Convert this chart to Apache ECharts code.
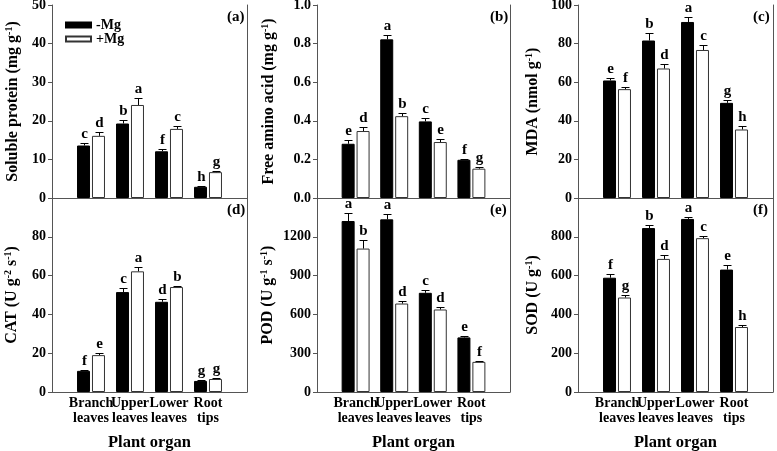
<!DOCTYPE html>
<html>
<head>
<meta charset="utf-8">
<script src="https://cdn.jsdelivr.net/npm/echarts@6/dist/echarts.min.js"></script>
<style>html,body{margin:0;padding:0;background:#fff}#c{width:777px;height:451px}</style>
</head>
<body>
<div id="c"></div>
<script>
// ---- data ----
const categories = ['Branch\nleaves', 'Upper\nleaves', 'Lower\nleaves', 'Root\ntips'];
const seriesNames = ['-Mg', '+Mg'];

// (a) Soluble protein
const proteinMinus = [13.6, 19.3, 12.1, 2.9];
const proteinMinusErr = [0.6, 0.9, 0.6, 0.2];
const proteinMinusLetters = ['c', 'b', 'f', 'h'];
const proteinPlus = [16.1, 24.1, 17.9, 6.7];
const proteinPlusErr = [0.9, 1.8, 0.8, 0.4];
const proteinPlusLetters = ['d', 'a', 'c', 'g'];

// (b) Free amino acid
const aminoMinus = [0.281, 0.822, 0.397, 0.198];
const aminoMinusErr = [0.019, 0.022, 0.017, 0.003];
const aminoMinusLetters = ['e', 'a', 'c', 'f'];
const aminoPlus = [0.347, 0.424, 0.290, 0.152];
const aminoPlusErr = [0.019, 0.016, 0.017, 0.008];
const aminoPlusLetters = ['d', 'b', 'e', 'g'];

// (c) MDA
const mdaMinus = [60.9, 81.6, 91.2, 49.3];
const mdaMinusErr = [1.2, 3.7, 2.4, 1.4];
const mdaMinusLetters = ['e', 'b', 'a', 'g'];
const mdaPlus = [56.4, 67.1, 76.7, 35.5];
const mdaPlusErr = [1.2, 2.2, 2.4, 1.7];
const mdaPlusLetters = ['f', 'd', 'c', 'h'];

// (d) CAT
const catMinus = [10.9, 51.5, 46.5, 5.7];
const catMinusErr = [0.5, 2.0, 1.3, 0.3];
const catMinusLetters = ['f', 'c', 'd', 'g'];
const catPlus = [19.0, 62.2, 54.1, 6.7];
const catPlusErr = [1.0, 2.4, 0.6, 0.3];
const catPlusLetters = ['e', 'a', 'b', 'g'];

// (e) POD
const podMinus = [1322, 1335, 767, 422];
const podMinusErr = [65, 39, 18, 10];
const podMinusLetters = ['a', 'a', 'c', 'e'];
const podPlus = [1109, 684, 638, 233];
const podPlusErr = [63, 16, 18, 10];
const podPlusLetters = ['b', 'd', 'd', 'f'];

// (f) SOD
const sodMinus = [589, 845, 892, 631];
const sodMinusErr = [19, 15, 12, 24];
const sodMinusLetters = ['f', 'b', 'a', 'e'];
const sodPlus = [487, 686, 793, 335];
const sodPlusErr = [14, 22, 12, 12];
const sodPlusLetters = ['g', 'd', 'c', 'h'];

// axis ranges / titles
const yRanges = [[0, 50, 10], [0, 1, 0.2], [0, 100, 20], [0, 100, 20], [0, 1500, 300], [0, 1000, 200]];
const yTitles = [
  '{t|Soluble protein (mg g}{s|-1}{t|)}',
  '{t|Free amino acid (mg g}{s|-1}{t|)}',
  '{t|MDA (nmol g}{s|-1}{t|)}',
  '{t|CAT (U g}{s|-2}{t| s}{s|-1}{t|)}',
  '{t|POD (U g}{s|-1}{t| s}{s|-1}{t|)}',
  '{t|SOD (U g}{s|-1}{t|)}'
];
const panelLabels = ['(a)', '(b)', '(c)', '(d)', '(e)', '(f)'];
const xTitle = 'Plant organ';

// ---- layout ----
const FONT = '"Liberation Serif", "Times New Roman", serif';
const AXIS = '#555';
const grids = [
  {left: 52, top: 5, width: 195, height: 193},
  {left: 317, top: 5, width: 193, height: 193},
  {left: 578, top: 5, width: 195, height: 193},
  {left: 52, top: 198, width: 195, height: 194},
  {left: 317, top: 198, width: 193, height: 194},
  {left: 578, top: 198, width: 195, height: 194}
].map(g => Object.assign({outerBoundsMode: 'none', containLabel: false}, g));
const nameGaps = [30, 39, 36, 31, 40, 36];

const panels = [
  [proteinMinus, proteinMinusErr, proteinMinusLetters, proteinPlus, proteinPlusErr, proteinPlusLetters],
  [aminoMinus, aminoMinusErr, aminoMinusLetters, aminoPlus, aminoPlusErr, aminoPlusLetters],
  [mdaMinus, mdaMinusErr, mdaMinusLetters, mdaPlus, mdaPlusErr, mdaPlusLetters],
  [catMinus, catMinusErr, catMinusLetters, catPlus, catPlusErr, catPlusLetters],
  [podMinus, podMinusErr, podMinusLetters, podPlus, podPlusErr, podPlusLetters],
  [sodMinus, sodMinusErr, sodMinusLetters, sodPlus, sodPlusErr, sodPlusLetters]
];

const axisCats = [''].concat(categories, ['']);

const xAxes = [], yAxes = [], series = [], graphics = [];
const BW = 13, OFF = 7.5;

function errSeries(gi, vals, errs, letters, side) {
  return {
    type: 'custom', xAxisIndex: gi, yAxisIndex: gi * 2, silent: true, z: 5,
    data: vals.map((v, i) => [i + 1, v, errs[i]]),
    encode: {x: 0, y: 1},
    renderItem(params, api) {
      const x = api.value(0), v = api.value(1), e = api.value(2);
      const p0 = api.coord([x, v]);
      const p1 = api.coord([x, v + e]);
      const cx = Math.round(p0[0] + side * OFF) + 0.5;
      const yt = Math.round(p1[1]) + 0.5;
      return {type: 'group', children: [
        {type: 'line', shape: {x1: cx, y1: p0[1], x2: cx, y2: yt}, style: {stroke: '#000', lineWidth: 1}},
        {type: 'line', shape: {x1: cx - 4, y1: yt, x2: cx + 4, y2: yt}, style: {stroke: '#000', lineWidth: 1}},
        {type: 'text', x: cx, y: yt - 2, style: {text: letters[params.dataIndex], fontFamily: FONT, fontWeight: 'bold', fontSize: 15, fill: '#000', align: 'center', verticalAlign: 'bottom'}}
      ]};
    }
  };
}

grids.forEach((g, gi) => {
  const bottom = gi >= 3;
  const [mn, mx, iv] = yRanges[gi];
  xAxes.push({
    type: 'category', gridIndex: gi, data: axisCats, boundaryGap: false,
    axisLine: {show: true, lineStyle: {color: AXIS, width: 1}},
    axisTick: {show: false}, splitLine: {show: false},
    axisLabel: bottom ? {show: true, interval: 0, margin: 4, overflow: 'none', hideOverlap: false,
      fontFamily: FONT, fontWeight: 'bold', fontSize: 14, lineHeight: 15, color: '#000'} : {show: false},
    name: bottom ? xTitle : '', nameLocation: 'middle', nameGap: 42,
    nameTextStyle: {fontFamily: FONT, fontWeight: 'bold', fontSize: 16.5, color: '#000'}
  });
  yAxes.push({
    type: 'value', gridIndex: gi, min: mn, max: mx, interval: iv, position: 'left',
    axisLine: {show: true, lineStyle: {color: AXIS, width: 1}},
    axisTick: {show: true, length: 4, lineStyle: {color: AXIS}},
    splitLine: {show: false},
    axisLabel: {showMaxLabel: !bottom, margin: 6, fontFamily: FONT, fontWeight: 'bold', fontSize: 14, color: '#000',
      formatter: gi === 1 ? (v) => v.toFixed(1) : (v) => String(v)},
    name: yTitles[gi], nameLocation: 'middle', nameGap: nameGaps[gi], nameRotate: 90,
    nameTextStyle: {
      rich: {
        t: {fontFamily: FONT, fontWeight: 'bold', fontSize: 16, lineHeight: 18, color: '#000'},
        s: {fontFamily: FONT, fontWeight: 'bold', fontSize: 10, verticalAlign: 'top', color: '#000'}
      }
    }
  });
  yAxes.push({
    type: 'value', gridIndex: gi, min: mn, max: mx, interval: iv, position: 'right',
    axisLine: {show: true, lineStyle: {color: AXIS, width: 1}},
    axisTick: {show: false}, axisLabel: {show: false}, splitLine: {show: false}
  });
  const [vm, em, lm, vp, ep, lp] = panels[gi];
  series.push({
    type: 'bar', name: seriesNames[0], xAxisIndex: gi, yAxisIndex: gi * 2,
    data: vm.map((v, i) => [i + 1, v]), barWidth: BW, barGap: '15%',
    itemStyle: {color: '#000', borderColor: '#000', borderWidth: 1}, silent: true
  });
  series.push({
    type: 'bar', name: seriesNames[1], xAxisIndex: gi, yAxisIndex: gi * 2,
    data: vp.map((v, i) => [i + 1, v]), barWidth: BW, barGap: '15%',
    itemStyle: {color: '#fff', borderColor: '#333', borderWidth: 1}, silent: true
  });
  series.push(errSeries(gi, vm, em, lm, -1));
  series.push(errSeries(gi, vp, ep, lp, 1));
  graphics.push({
    type: 'text', left: g.left + g.width - 4 - 16, top: g.top + 5,
    style: {text: panelLabels[gi], fontFamily: FONT, fontWeight: 'bold', fontSize: 15, fill: '#000'}
  });
});

const legendBase = {
  orient: 'vertical', left: 65, padding: 0, itemWidth: 25, itemHeight: 5, itemGap: 0,
  icon: 'rect', selectedMode: false,
  textStyle: {fontFamily: FONT, fontWeight: 'bold', fontSize: 14, lineHeight: 14, color: '#000'}
};

const chart = echarts.init(document.getElementById('c'), null, {renderer: 'canvas'});
chart.setOption({
  animation: false,
  backgroundColor: '#fff',
  grid: grids,
  xAxis: xAxes,
  yAxis: yAxes,
  series: series,
  graphic: graphics,
  legend: [
    Object.assign({}, legendBase, {data: [seriesNames[0]], top: 18}),
    Object.assign({}, legendBase, {data: [seriesNames[1]], top: 32})
  ]
});
</script>
</body>
</html>
